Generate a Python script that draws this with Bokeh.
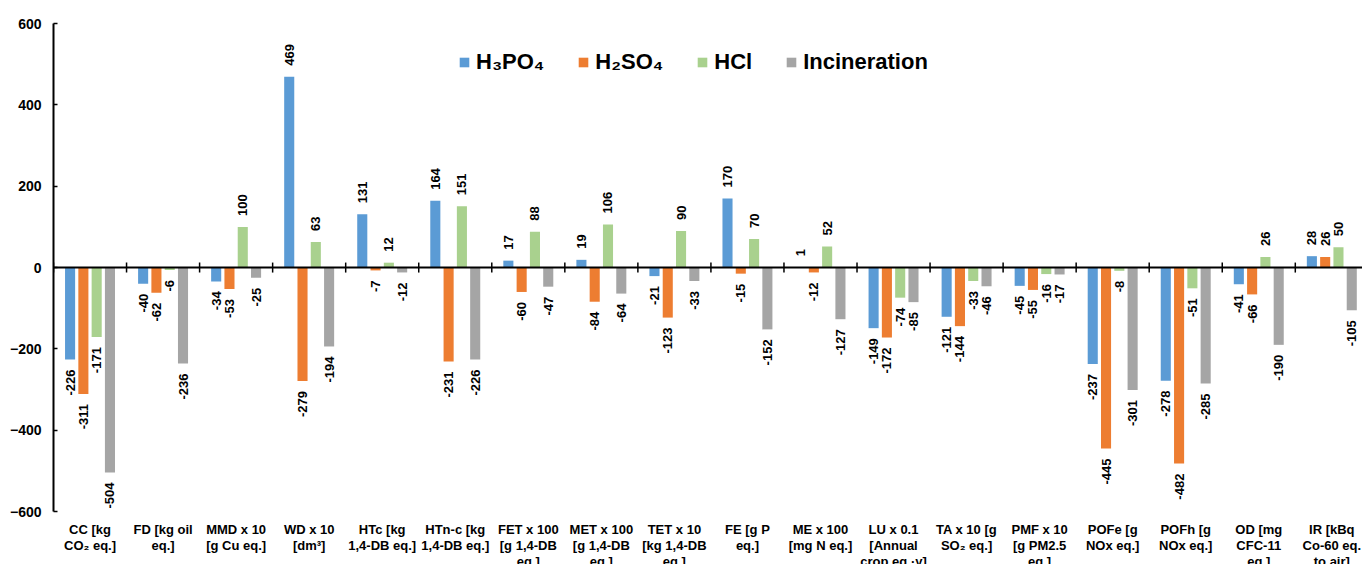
import numpy as np
from bokeh.plotting import figure
from bokeh.models import ColumnDataSource, Range1d, FixedTicker, Span, Legend, LegendItem
from bokeh.core.properties import value
from bokeh.embed import file_html
from bokeh.resources import INLINE

categories = [
    "CC [kg\nCO\u2082 eq.]", "FD [kg oil\neq.]", "MMD x 10\n[g Cu eq.]", "WD x 10\n[dm\u00b3]",
    "HTc [kg\n1,4-DB eq.]", "HTn-c [kg\n1,4-DB eq.]", "FET x 100\n[g 1,4-DB\neq.]",
    "MET x 100\n[g 1,4-DB\neq.]", "TET x 10\n[kg 1,4-DB\neq.]", "FE [g P\neq.]",
    "ME x 100\n[mg N eq.]", "LU x 0.1\n[Annual\ncrop eq.\u00b7y]", "TA x 10 [g\nSO\u2082 eq.]",
    "PMF x 10\n[g PM2.5\neq.]", "POFe [g\nNOx eq.]", "POFh [g\nNOx eq.]", "OD [mg\nCFC-11\neq.]",
    "IR [kBq\nCo-60 eq.\nto air]",
]
h3po4 = [-226, -40, -34, 469, 131, 164, 17, 19, -21, 170, 1, -149, -121, -45, -237, -278, -41, 28]
h2so4 = [-311, -62, -53, -279, -7, -231, -60, -84, -123, -15, -12, -172, -144, -55, -445, -482, -66, 26]
hcl = [-171, -6, 100, 63, 12, 151, 88, 106, 90, 70, 52, -74, -33, -16, -8, -51, 26, 50]
incineration = [-504, -236, -25, -194, -12, -226, -47, -64, -33, -152, -127, -85, -46, -17, -301, -285, -190, -105]
series_names = ["H\u2083PO\u2084", "H\u2082SO\u2084", "HCl", "Incineration"]
series_values = [h3po4, h2so4, hcl, incineration]
colors = ["#5B9BD5", "#ED7D31", "#A9D18E", "#A5A5A5"]
y_ticks = [-600, -400, -200, 0, 200, 400, 600]

FONT = "Liberation Sans"
n = len(categories)
offsets = [-0.273, -0.091, 0.091, 0.273]
bar_w = 0.138

p = figure(width=1362, height=564, output_backend="svg", toolbar_location=None,
           x_range=Range1d(0, 17.92), y_range=Range1d(-730, 600),
           x_axis_location=None, min_border_left=53, min_border_right=0,
           min_border_top=23, min_border_bottom=0)
p.outline_line_color = None
p.xgrid.visible = False
p.ygrid.visible = False
p.background_fill_color = "white"

ax = p.yaxis[0]
ax.ticker = FixedTicker(ticks=y_ticks)
ax.bounds = (y_ticks[0], y_ticks[-1])
ax.major_tick_in = 4
ax.major_tick_out = 0
ax.minor_tick_line_color = None
ax.axis_line_width = 2
ax.major_tick_line_width = 1.5
ax.major_label_text_font = FONT
ax.major_label_text_font_style = "bold"
ax.major_label_text_font_size = "14px"
ax.major_label_text_color = "black"
ax.major_label_standoff = 12

items = []
for name, vals, col, off in zip(series_names, series_values, colors, offsets):
    xs = [i + 0.5 + off for i in range(n)]
    src = ColumnDataSource(dict(x=xs, top=vals))
    r = p.vbar(x="x", top="top", bottom=0, width=bar_w, source=src, fill_color=col, line_color=None)
    items.append(LegendItem(label=name, renderers=[r]))
    src_pos = ColumnDataSource(dict(x=[x for x, v in zip(xs, vals) if v >= 0],
                                    y=[v for v in vals if v >= 0],
                                    t=[str(v) for v in vals if v >= 0]))
    src_neg = ColumnDataSource(dict(x=[x for x, v in zip(xs, vals) if v < 0],
                                    y=[v for v in vals if v < 0],
                                    t=[str(v) for v in vals if v < 0]))
    p.text(x="x", y="y", text="t", source=src_pos, angle=np.pi / 2, y_offset=-11,
           text_align="left", text_baseline="middle", text_font=value(FONT),
           text_font_style="bold", text_font_size="13px", text_color="black")
    p.text(x="x", y="y", text="t", source=src_neg, angle=np.pi / 2, y_offset=10,
           text_align="right", text_baseline="middle", text_font=value(FONT),
           text_font_style="bold", text_font_size="13px", text_color="black")

# zero line with category separators
p.add_layout(Span(location=0, dimension="width", line_color="black", line_width=2))
p.scatter(x=list(range(n + 1)), y=[0] * (n + 1), marker="dash", size=10, angle=np.pi / 2,
          line_color="black", line_width=1.5)

# category labels
p.text(x=[i + 0.5 for i in range(n)], y=[y_ticks[0]] * n, text=categories, y_offset=10,
       text_align="center", text_baseline="top", text_font=value(FONT), text_font_style="bold",
       text_font_size="13px", text_line_height=1.08, text_color="black")

legend = Legend(items=items, orientation="horizontal", location=(405, 489),
                label_text_font=FONT, label_text_font_style="bold", label_text_font_size="22px",
                label_text_color="black", glyph_width=12, glyph_height=12, label_standoff=6,
                spacing=33, padding=0, margin=0, border_line_color=None,
                background_fill_alpha=0)
p.add_layout(legend)

open("out.html", "w").write(file_html(p, INLINE))
